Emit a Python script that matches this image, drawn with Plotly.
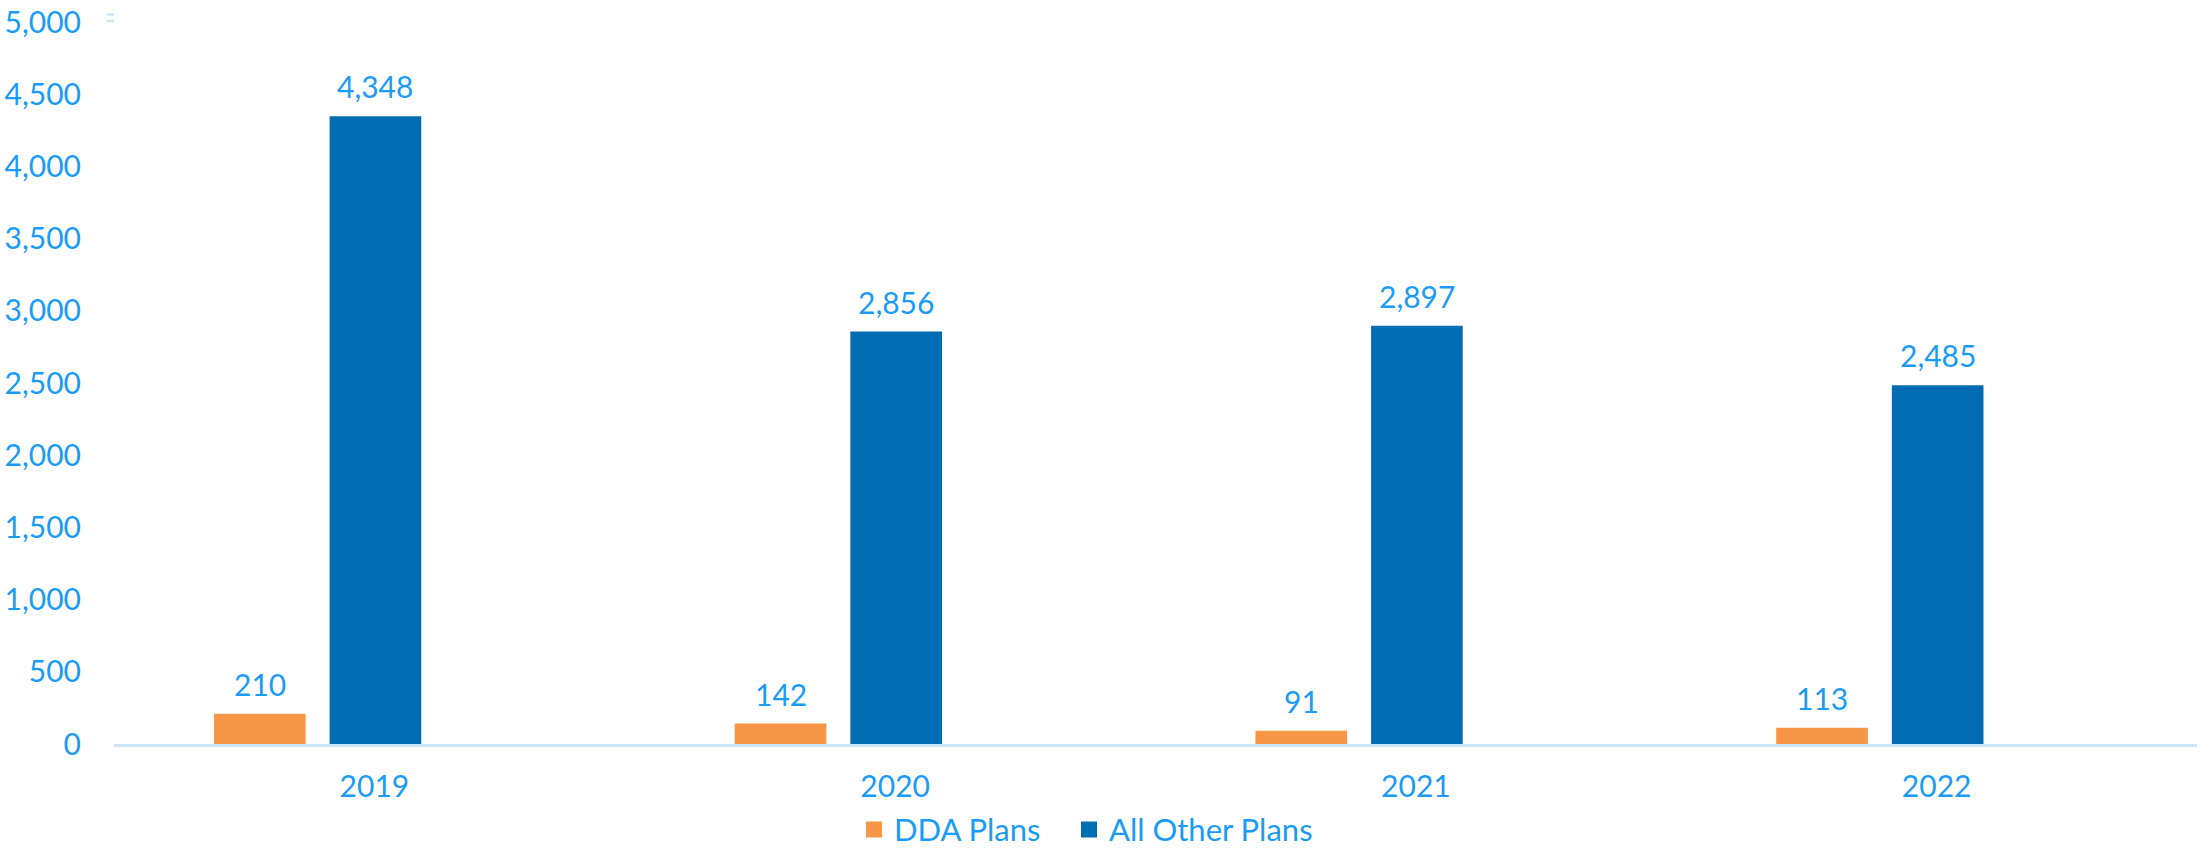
import plotly.graph_objects as go

years = ["2019", "2020", "2021", "2022"]
dda_plans = [210, 142, 91, 113]
all_other_plans = [4348, 2856, 2897, 2485]
y_ticks = [0, 500, 1000, 1500, 2000, 2500, 3000, 3500, 4000, 4500, 5000]
series_names = ["DDA Plans", "All Other Plans"]

ORANGE = "#F79646"
BLUE = "#006DB3"
TEXT = "#1A9BF5"
FONT = "Lato"

BAR_W = 0.176
OFF_DDA = -0.308
OFF_OTHER = -0.086

fig = go.Figure()
fig.add_trace(go.Bar(name=series_names[0], x=years, y=dda_plans, marker_color=ORANGE,
                     width=BAR_W, offset=OFF_DDA, marker_line_width=0, showlegend=False))
fig.add_trace(go.Bar(name=series_names[1], x=years, y=all_other_plans, marker_color=BLUE,
                     width=BAR_W, offset=OFF_OTHER, marker_line_width=0, showlegend=False))
# legend entries with larger square swatches, one legend box per entry
for name, col, lg in zip(series_names, (ORANGE, BLUE), ("legend", "legend2")):
    fig.add_trace(go.Scatter(name=name, x=[None], y=[None], mode="markers", legend=lg,
                             marker=dict(symbol="square", size=16, color=col)))

annotations = []
for i, (a, b) in enumerate(zip(dda_plans, all_other_plans)):
    for val, off in ((a, OFF_DDA), (b, OFF_OTHER)):
        annotations.append(dict(x=i + off + BAR_W / 2, y=val, xref="x", yref="y",
                                text=f"{val:,}", showarrow=False, yanchor="middle",
                                yshift=30, font=dict(family=FONT, size=30, color=TEXT)))

legend_common = dict(orientation="h", xanchor="left", xref="container",
                     y=0.025, yanchor="middle", yref="container",
                     font=dict(family=FONT, size=31, color=TEXT), itemwidth=30,
                     itemclick=False, bgcolor="rgba(0,0,0,0)")

fig.update_layout(
    width=2202, height=851,
    margin=dict(l=114, r=5, t=22, b=107, autoexpand=False),
    paper_bgcolor="white", plot_bgcolor="white",
    font=dict(family=FONT, size=30, color=TEXT),
    showlegend=True,
    legend=dict(x=854 / 2202, **legend_common),
    legend2=dict(x=1069 / 2202, **legend_common),
    annotations=annotations,
    shapes=[
        dict(type="line", xref="paper", yref="paper", x0=-0.0034, x1=0.0, y0=1.0104, y1=1.0104,
             line=dict(color="#C8E4FA", width=2.5)),
        dict(type="line", xref="paper", yref="paper", x0=-0.0034, x1=0.0, y0=1.0014, y1=1.0014,
             line=dict(color="#C8E4FA", width=2.5)),
    ],
)
fig.update_xaxes(type="category", range=[-0.5, 3.5], showgrid=False, showline=True,
                 linecolor="#CFE6FA", linewidth=3, ticks="outside", ticklen=14,
                 tickcolor="rgba(0,0,0,0)", tickfont=dict(family=FONT, size=30, color=TEXT),
                 zeroline=False, automargin=False)
fig.update_yaxes(range=[0, 5000], tickvals=y_ticks, tickformat=",d", showgrid=False,
                 showline=False, zeroline=False, ticks="outside", ticklen=26,
                 tickcolor="rgba(0,0,0,0)", tickfont=dict(family=FONT, size=30, color=TEXT),
                 automargin=False)

fig.write_html("out.html", config={"displayModeBar": False},
               post_script="document.body.style.margin='0';document.body.style.overflow='hidden';")
